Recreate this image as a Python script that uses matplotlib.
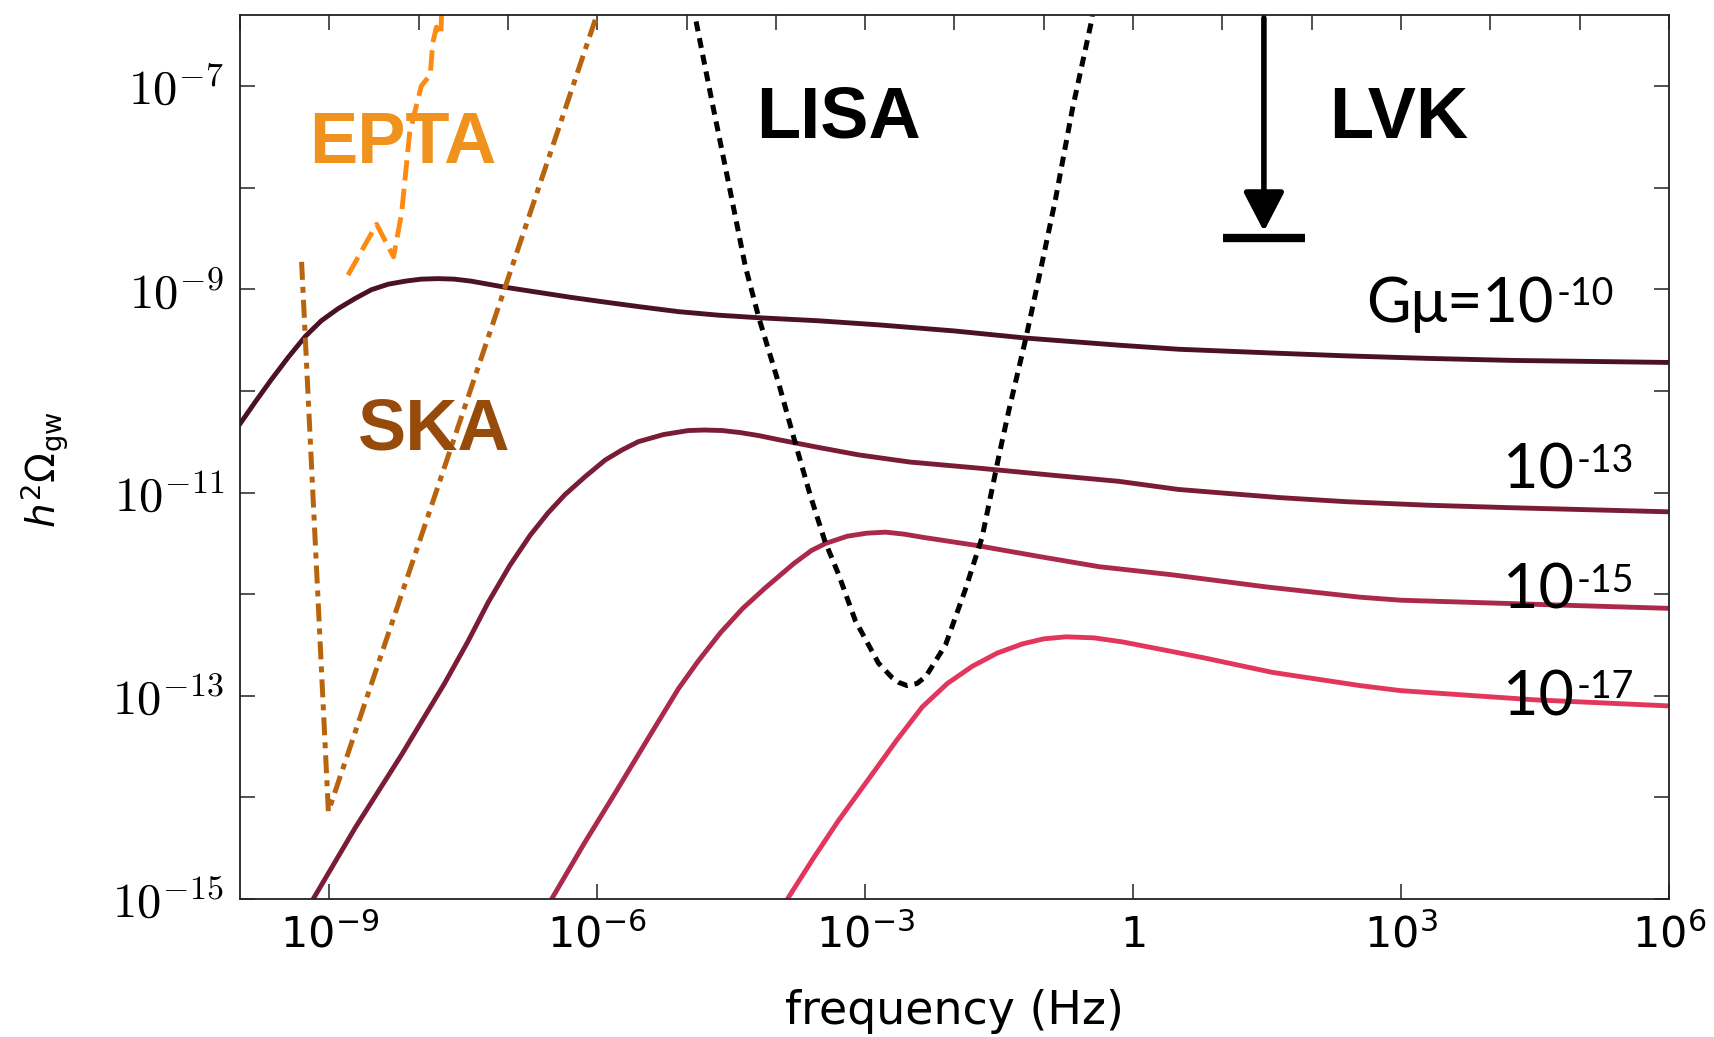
#!/usr/bin/env python3

import matplotlib.pyplot as plt
import matplotlib.ticker as ticker
import numpy as np
from matplotlib.patches import ArrowStyle

# all curves are stored as log10(f / Hz) and log10(h^2 Omega_gw)

# cosmic string spectra, one per string tension G mu
gmu10_logf = [-10.02, -9.83, -9.65, -9.46, -9.27, -9.09, -8.90, -8.71, -8.53, -8.34, -8.15,
              -7.97, -7.78, -7.60, -7.41, -7.22, -7.03, -6.66, -6.29, -5.92, -5.54, -5.09,
              -4.64, -4.19, -3.52, -2.85, -2.00, -1.20, -0.16, 0.51, 1.64, 2.38, 3.3, 4.25, 6.0]
gmu10_logomega = [-10.35, -10.11, -9.89, -9.67, -9.465, -9.31, -9.19, -9.09, -9.005, -8.95, -8.92,
                  -8.90, -8.895, -8.90, -8.92, -8.95, -8.98, -9.03, -9.08, -9.125, -9.17, -9.22,
                  -9.255, -9.28, -9.31, -9.35, -9.41, -9.48, -9.55, -9.59, -9.63, -9.655, -9.68,
                  -9.70, -9.72]

gmu13_logf = [-9.18, -8.71, -8.19, -7.71, -7.45, -7.22, -6.98, -6.75, -6.55, -6.36, -6.13,
              -5.91, -5.72, -5.54, -5.26, -4.98, -4.80, -4.60, -4.40, -4.19, -3.97, -3.50,
              -3.07, -2.50, -1.73, -0.90, -0.16, 0.51, 1.64, 2.38, 3.3, 4.25, 6.0]
gmu13_logomega = [-15.0, -14.30, -13.58, -12.88, -12.47, -12.08, -11.72, -11.42, -11.20, -11.02, -10.84,
                  -10.68, -10.58, -10.50, -10.43, -10.39, -10.385, -10.39, -10.41, -10.44, -10.48,
                  -10.56, -10.63, -10.70, -10.76, -10.83, -10.89, -10.97, -11.05, -11.09, -11.125,
                  -11.15, -11.19]

gmu15_logf = [-6.51, -6.15, -5.78, -5.43, -5.09, -4.87, -4.62, -4.37, -4.12, -3.80, -3.60,
              -3.44, -3.20, -2.98, -2.77, -2.56, -2.36, -1.76, -1.05, -0.38, 0.44, 1.50,
              2.54, 3.0, 4.49, 6.0]
gmu15_logomega = [-15.0, -14.46, -13.93, -13.42, -12.93, -12.66, -12.38, -12.14, -11.94, -11.70, -11.57,
                  -11.50, -11.43, -11.40, -11.39, -11.41, -11.44, -11.52, -11.63, -11.73, -11.81,
                  -11.93, -12.03, -12.06, -12.10, -12.14]

gmu17_logf = [-3.87, -3.58, -3.30, -3.11, -2.92, -2.64, -2.36, -2.08, -1.80, -1.52, -1.24,
              -1.00, -0.75, -0.44, -0.12, 0.35, 0.81, 1.56, 2.54, 3.0, 4.49, 6.0]
gmu17_logomega = [-15.0, -14.60, -14.23, -14.00, -13.77, -13.43, -13.11, -12.88, -12.71, -12.58, -12.49,
                  -12.44, -12.42, -12.43, -12.47, -12.55, -12.63, -12.77, -12.90, -12.95, -13.04,
                  -13.10]

# detector sensitivities
epta_logf = [-8.79, -8.47, -8.28, -8.19, -8.10, -7.97, -7.87, -7.84, -7.80, -7.75, -7.74]
epta_logomega = [-8.86, -8.36, -8.68, -8.25, -7.46, -7.00, -6.89, -6.57, -6.42, -6.50, -6.20]

ska_logf = [-9.31, -9.01, -5.90]
ska_logomega = [-8.73, -14.14, -6.03]

lisa_logf = [-4.93, -4.72, -4.53, -4.34, -4.19, -3.97, -3.78, -3.61, -3.45, -3.30, -3.11, -2.85,
             -2.70, -2.62, -2.53, -2.42, -2.32, -2.10, -1.88, -1.69, -1.50, -1.39, -1.20, -1.05,
             -0.87, -0.68, -0.47, -0.44]
lisa_logomega = [-6.20, -7.13, -7.95, -8.78, -9.28, -9.92, -10.52, -11.04, -11.48, -11.80, -12.26,
                 -12.68, -12.82, -12.87, -12.90, -12.88, -12.81, -12.50, -11.96, -11.44, -10.63,
                 -10.19, -9.48, -8.87, -8.12, -7.23, -6.38, -6.20]

# LIGO-Virgo-KAGRA upper bound
lvk_logf = 1.465
lvk_band_logf = [1.01, 1.93]
lvk_bound_logomega = -8.50
lvk_tip_logomega = -8.43
lvk_top_logomega = -6.33

# G mu labels on the right: base text, exponent, anchor position
gmu_bases = ['Gμ=10', '10', '10', '10']
gmu_exps = ['-10', '-13', '-15', '-17']
gmu_label_logf = [4.71, 4.94, 4.94, 4.94]
gmu_label_logomega = [-9.317, -10.96, -12.14, -13.19]

xtick_exps = [-9, -6, -3, 0, 3, 6]
xtick_labels = ['$10^{-9}$', '$10^{-6}$', '$10^{-3}$', '$1$', '$10^{3}$', '$10^{6}$']
ytick_exps = [-15, -13, -11, -9, -7]
ytick_labels = ['$10^{-15}$', '$10^{-13}$', '$10^{-11}$', '$10^{-9}$', '$10^{-7}$']


def pw(v):
    return 10.0 ** np.asarray(v, dtype=float)


plt.rcParams['font.family'] = 'DejaVu Sans'
plt.rcParams['mathtext.fontset'] = 'dejavusans'

fig = plt.figure(figsize=(17.14, 10.37), dpi=100)
ax = fig.add_axes([0.140, 0.1331, 0.8337, 0.8525])
ax.set_xscale('log')
ax.set_yscale('log')
ax.set_xlim(1e-10, 1e6)
ax.set_ylim(1e-15, pw(-6.3))

# string spectra, darker for heavier strings
curves = [(gmu10_logf, gmu10_logomega), (gmu13_logf, gmu13_logomega),
          (gmu15_logf, gmu15_logomega), (gmu17_logf, gmu17_logomega)]
colors = ['#4b1126', '#7b1c37', '#ab2a4b', '#e3365c']
for (lf, lo), c in zip(curves, colors):
    ax.plot(pw(lf), pw(lo), color=c, lw=3.5, solid_capstyle='round', solid_joinstyle='round')

ax.plot(pw(ska_logf), pw(ska_logomega), color='#b8640f', lw=3.6,
        linestyle=(0, (3.6, 1.4, 1.2, 1.4)))
ax.plot(pw(epta_logf), pw(epta_logomega), color='#ff8a12', lw=3.5,
        linestyle=(0, (4.2, 1.7)))
ax.plot(pw(lisa_logf), pw(lisa_logomega), color='black', lw=3.6,
        linestyle=(0, (2.0, 1.4)))

# LVK bound: arrow down onto a horizontal bar
ax.annotate('', xy=(pw(lvk_logf), pw(lvk_tip_logomega)),
            xytext=(pw(lvk_logf), pw(lvk_top_logomega)),
            arrowprops=dict(arrowstyle=ArrowStyle('-|>', head_length=0.5, head_width=0.26),
                            mutation_scale=48, lw=4, color='black', shrinkA=0, shrinkB=0))
ax.plot(pw(lvk_band_logf), pw([lvk_bound_logomega] * 2), color='black', lw=6,
        solid_capstyle='butt')

bold = dict(family='Liberation Sans', fontweight='bold', fontsize=52, ha='center', va='baseline')
ax.text(pw(-8.18), pw(-7.754), 'EPTA', color='#f0931e', **bold)
ax.text(pw(-7.82), pw(-10.58), 'SKA', color='#964b0a', **bold)
ax.text(pw(-3.30), pw(-7.51), 'LISA', color='black', **bold)
ax.text(pw(2.97), pw(-7.51), 'LVK', color='black', **bold)

label_font = ['Lato', 'DejaVu Sans']
for base, sup, lf, lo in zip(gmu_bases, gmu_exps, gmu_label_logf, gmu_label_logomega):
    ax.annotate(base, xy=(pw(lf), pw(lo)), xytext=(0, 0), textcoords='offset points',
                ha='right', va='baseline', fontsize=44, family=label_font)
    ax.annotate(sup, xy=(pw(lf), pw(lo)), xytext=(2, 12), textcoords='offset points',
                ha='left', va='baseline', fontsize=27, family=label_font)

# ticks: every decade, labels every 3 (x) and 2 (y) decades
ax.xaxis.set_major_locator(ticker.FixedLocator(pw(xtick_exps)))
ax.xaxis.set_major_formatter(ticker.FixedFormatter(xtick_labels))
ax.xaxis.set_minor_locator(ticker.FixedLocator(pw(np.arange(-10, 7))))
ax.xaxis.set_minor_formatter(ticker.NullFormatter())
ax.yaxis.set_major_locator(ticker.FixedLocator(pw(ytick_exps)))
ax.yaxis.set_major_formatter(ticker.FixedFormatter(ytick_labels))
ax.yaxis.set_minor_locator(ticker.FixedLocator(pw(np.arange(-15, -6))))
ax.yaxis.set_minor_formatter(ticker.NullFormatter())

ax.tick_params(axis='both', which='both', direction='in', length=10.5, width=1.1,
               color='#222222', top=True, right=True)
ax.tick_params(axis='x', which='minor', bottom=False)
ax.tick_params(axis='x', which='major', labelsize=31, pad=11)
ax.tick_params(axis='y', which='major', labelsize=35, pad=11.5)
for lbl in ax.get_yticklabels():
    lbl.set_math_fontfamily('cm')

for s in ax.spines.values():
    s.set_linewidth(1.3)
    s.set_color('#222222')

ax.set_xlabel('frequency (Hz)', fontsize=33)
ax.xaxis.set_label_coords(0.5, -0.102)
ax.set_ylabel(r'$h^2\Omega_{\rm gw}$', fontsize=28)
ax.yaxis.set_label_coords(-0.118, 0.486)

fig.savefig('out.png', dpi=100)
